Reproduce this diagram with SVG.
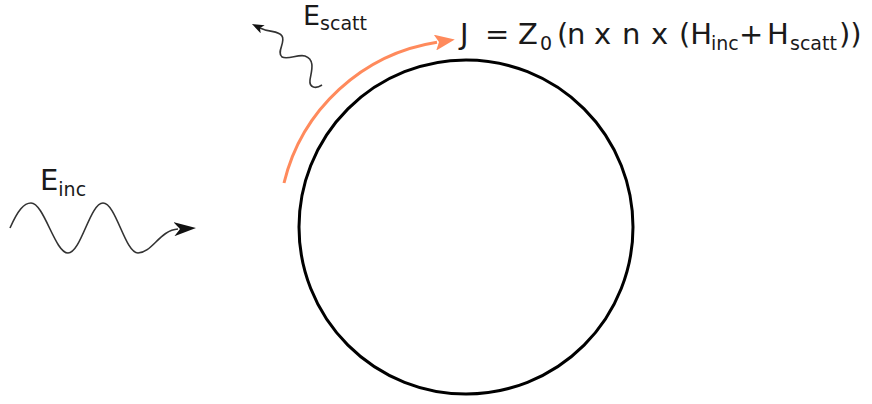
<svg xmlns="http://www.w3.org/2000/svg" width="872" height="404" viewBox="0 0 872 404">
<style>
.t{font-family:"DejaVu Sans",sans-serif;fill:#1a1a1a;font-size:29px}
.s{font-size:19px}
.e{font-size:27px}
.w{fill:none;stroke:#333;stroke-width:1.6}
</style>
<defs>
<marker id="ab" viewBox="0 0 22 14" refX="4" refY="7" markerWidth="22" markerHeight="14" markerUnits="userSpaceOnUse" orient="auto">
<path d="M22,7 L0,0 L6,7 L0,14 Z" fill="#111"/>
</marker>
<marker id="abs" viewBox="0 0 12 9" refX="3" refY="4.5" markerWidth="12" markerHeight="9" markerUnits="userSpaceOnUse" orient="auto">
<path d="M12,4.5 L0,0 L3,4.5 L0,9 Z" fill="#111"/>
</marker>
<marker id="ao" viewBox="0 0 20 16" refX="2" refY="8" markerWidth="20" markerHeight="16" markerUnits="userSpaceOnUse" orient="auto">
<path d="M20,8 L0,0 L4,8 L0,16 Z" fill="#ff8a5c"/>
</marker>
</defs>
<g id="sphere">
<circle cx="466" cy="227" r="167" fill="none" stroke="#000" stroke-width="3"/>
</g>
<g id="connectors">
<path id="current-arrow" d="M284,183 A187,187 0 0 1 437,42.3" fill="none" stroke="#ff8a5c" stroke-width="3" marker-end="url(#ao)"/>
<path id="inc-wave" class="w" d="M10,228 C18,210 24,203 31,203 C44,203 55,253 68,253 C81,253 90,203 103,203 C116,203 125,253 138,253 C152,253 160,230 178,229" marker-end="url(#ab)"/>
<path id="scatt-wave" class="w" d="M322,85 C316,89 309,88 310,80 C311,72 316,60 305,56 C298,54 288,60 282,57 C276,52 286,42 282,36 C278,30 270,33 260,28" marker-end="url(#abs)"/>
</g>
<g id="label-einc">
<text class="t" x="40" y="190">E<tspan class="s" y="196">inc</tspan></text>
</g>
<g id="label-escatt">
<text class="t e" x="303" y="25">E<tspan class="s" y="30">scatt</tspan></text>
</g>
<g id="label-formula">
<text class="t" y="44"><tspan x="460">J</tspan><tspan x="485">=</tspan><tspan x="518">Z</tspan><tspan class="s" x="540" y="50">0</tspan><tspan x="557" y="44">(</tspan><tspan x="567">n</tspan><tspan x="594">x</tspan><tspan x="622">n</tspan><tspan x="651">x</tspan><tspan x="679">(H</tspan><tspan class="s" x="711" y="50">inc</tspan><tspan x="739" y="44">+</tspan><tspan x="767">H</tspan><tspan class="s" x="790" y="50">scatt</tspan><tspan x="839" y="44">))</tspan></text>
</g>
</svg>
